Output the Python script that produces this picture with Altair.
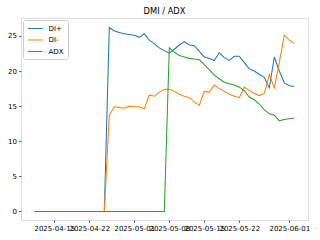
import altair as alt
import pandas as pd

start_date = "2025-04-11"
end_date = "2025-06-02"

di_plus = [0, 0, 0, 0, 0, 0, 0, 0, 0, 0, 0, 0, 0, 0, 0,
           26.2, 25.7, 25.5, 25.3, 25.2, 25.1, 24.8, 25.3, 24.4, 23.9,
           23.3, 22.9, 22.5, 23.1, 23.7, 24.2, 23.7, 23.6, 22.8, 22.0,
           21.8, 21.5, 22.6, 21.9, 21.5, 22.1, 22.1, 21.2, 20.3, 20.0,
           19.5, 19.1, 17.6, 22.0, 20.0, 18.3, 17.9, 17.8]
di_minus = [0, 0, 0, 0, 0, 0, 0, 0, 0, 0, 0, 0, 0, 0, 0,
            13.7, 14.9, 14.8, 14.7, 15.0, 14.9, 14.9, 14.6, 16.6, 16.4,
            17.0, 17.4, 17.4, 17.1, 16.7, 16.4, 16.2, 15.6, 15.1, 17.1,
            17.0, 18.0, 17.5, 17.1, 16.7, 16.4, 16.2, 17.7, 17.2, 16.8,
            16.5, 16.8, 19.5, 17.6, 21.2, 25.1, 24.4, 23.9]
adx = [0, 0, 0, 0, 0, 0, 0, 0, 0, 0, 0, 0, 0, 0, 0, 0, 0, 0, 0, 0,
       0, 0, 0, 0, 0, 0, 0,
       23.3, 22.7, 22.2, 22.0, 21.8, 21.7, 21.6, 20.9, 20.2, 19.4,
       18.9, 18.4, 18.2, 18.0, 17.7, 17.2, 16.3, 15.9, 15.3, 14.5,
       13.9, 13.7, 12.9, 13.1, 13.2, 13.3]

series_names = ["DI+", "DI-", "ADX"]
series_colors = ["#1f77b4", "#ff7f0e", "#2ca02c"]
tick_dates = ["2025-04-15", "2025-04-22", "2025-05-01", "2025-05-08",
              "2025-05-15", "2025-05-22", "2025-06-01"]
y_ticks = [0, 5, 10, 15, 20, 25]

dates = pd.date_range(start_date, end_date, freq="D")
df = pd.DataFrame({"date": dates.strftime("%Y-%m-%d"),
                   "DI+": di_plus, "DI-": di_minus, "ADX": adx})
long = df.melt(id_vars="date", var_name="series", value_name="value")

def ms(ts):
    return int(pd.Timestamp(ts).value // 1_000_000)

x_lo = ms(pd.Timestamp("2025-04-15") - pd.Timedelta(days=6.66))
x_hi = ms(pd.Timestamp("2025-04-15") + pd.Timedelta(days=50.74))
tick_vals = [ms(t) for t in tick_dates]

font = "DejaVu Sans"

chart = alt.Chart(long).mark_line(strokeWidth=1.05).encode(
    x=alt.X("date:T",
            scale=alt.Scale(type="utc", domain=[x_lo, x_hi], nice=False),
            axis=alt.Axis(title=None, values=tick_vals,
                          labelExpr="utcFormat(datum.value, '%Y-%m-%d')",
                          labelOverlap=False,
                          labelFlush=False, grid=False, domain=False,
                          tickSize=2.5, tickWidth=0.6, tickColor="#000",
                          labelPadding=2, labelFontSize=7, labelColor="#000",
                          labelFont=font)),
    y=alt.Y("value:Q",
            scale=alt.Scale(domain=[-1.22, 27.55], nice=False, zero=False),
            axis=alt.Axis(title=None, values=y_ticks, grid=False, domain=False,
                          tickSize=2.5, tickWidth=0.6, tickColor="#000",
                          labelPadding=2, labelFontSize=7, labelColor="#000",
                          labelFont=font)),
    color=alt.Color("series:N",
                    scale=alt.Scale(domain=series_names, range=series_colors),
                    sort=series_names,
                    legend=alt.Legend(title=None, orient="top-left", offset=2,
                                      symbolType="M-1,0L3,0", symbolSize=56,
                                      symbolStrokeWidth=1.05, labelOffset=12.5,
                                      labelFontSize=7, labelFont=font,
                                      labelColor="#000", padding=4,
                                      rowPadding=3.5, fillColor="#ffffff",
                                      strokeColor="#cccccc", cornerRadius=2)),
    detail="series:N",
).properties(
    width=287, height=202,
    title=alt.Title("DMI / ADX", fontSize=8.3, font=font, fontWeight="normal",
                    color="#000", anchor="middle", offset=3),
    autosize=alt.AutoSizeParams(type="none"),
    padding={"left": 21, "top": 18, "right": 12, "bottom": 20},
).configure_view(stroke="#222", strokeWidth=0.7).configure(background="white")

chart.save("out.html", embed_options={"renderer": "svg", "actions": False})
